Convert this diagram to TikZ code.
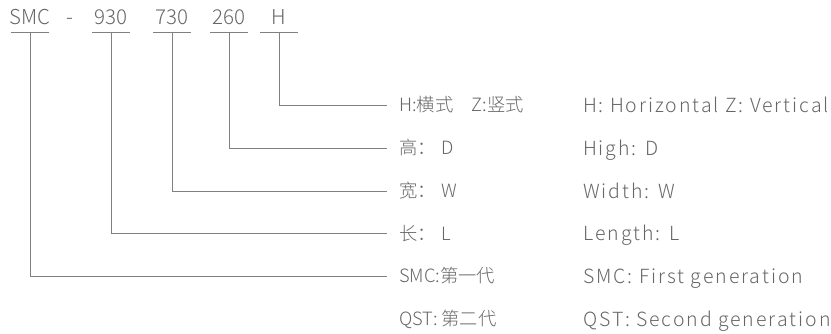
\documentclass[tikz,border=0pt]{standalone}
\usepackage{fontspec}
\setmainfont{Noto Sans CJK SC Light}
\newfontfamily\angl{Noto Sans CJK SC Light}[LetterSpace=10]
\usetikzlibrary{positioning}
\definecolor{besedilo}{HTML}{666666}
\definecolor{crtasiva}{HTML}{808080}

\begin{document}
\begin{tikzpicture}[x=1pt,y=-1pt,
  koda/.style={text=besedilo,inner sep=0pt,text height=15pt,text depth=0pt,font=\fontsize{20.5}{24}\selectfont},
  opis/.style={text=besedilo,inner sep=0pt,anchor=west,text height=13.4pt,text depth=0pt,font=\fontsize{18.3}{21}\selectfont},
  angopis/.style={opis,text height=14.2pt,font=\fontsize{19.5}{22}\angl},
  crta/.style={crtasiva,line width=0.9pt}]
\useasboundingbox (0,0) rectangle (831,333);

%oznaka na vrhu
\node[koda] (smc) at (30,17) {SMC};
\node[koda] (pomisljaj) at (70,17) {-};
\node[koda] (dolzina) at (111,17) {930};
\node[koda] (sirina) at (172,17) {730};
\node[koda] (visina) at (229,17) {260};
\node[koda] (izvedba) at (279,17) {H};

%podcrte
\coordinate (usmc) at (30,32.5);
\coordinate (udolzina) at (111,32.5);
\coordinate (usirina) at (172,32.5);
\coordinate (uvisina) at (229,32.5);
\coordinate (uizvedba) at (279,32.5);
\foreach \u in {usmc,udolzina,usirina,uvisina,uizvedba}
  \draw[crta] ([xshift=-19pt]\u)--([xshift=19pt]\u);

%konci vodil
\coordinate (kizvedba) at (387,105);
\coordinate (kvisina) at (387,148);
\coordinate (ksirina) at (387,191);
\coordinate (kdolzina) at (387,233.5);
\coordinate (ksmc) at (387,276);
\coordinate (kqst) at (387,319);

%opisi kitajsko
\node[opis,right=12pt of kizvedba] (cnizvedba) {H:横式\hspace{1em}Z:竖式};
\node[opis,right=12pt of kvisina] (cnvisina) {高：\hspace{0.3em}D};
\node[opis,right=12pt of ksirina] (cnsirina) {宽：\hspace{0.3em}W};
\node[opis,right=12pt of kdolzina] (cndolzina) {长：\hspace{0.3em}L};
\node[opis,right=12pt of ksmc] (cnsmc) {SMC:第一代};
\node[opis,right=12pt of kqst] (cnqst) {QST: 第二代};

%opisi angleško
\node[angopis] (enizvedba) at (583,105) {H: Horizontal Z: Vertical};
\node[angopis] (envisina) at (583,148) {High: D};
\node[angopis] (ensirina) at (583,191) {Width: W};
\node[angopis] (endolzina) at (583,233.5) {Length: L};
\node[angopis] (ensmc) at (583,276) {SMC: First generation};
\node[angopis] (enqst) at (583,319) {QST: Second generation};

%vodila
\draw[crta] (uizvedba)|-(kizvedba);
\draw[crta] (uvisina)|-(kvisina);
\draw[crta] (usirina)|-(ksirina);
\draw[crta] (udolzina)|-(kdolzina);
\draw[crta] (usmc)|-(ksmc);

\end{tikzpicture}
\end{document}
